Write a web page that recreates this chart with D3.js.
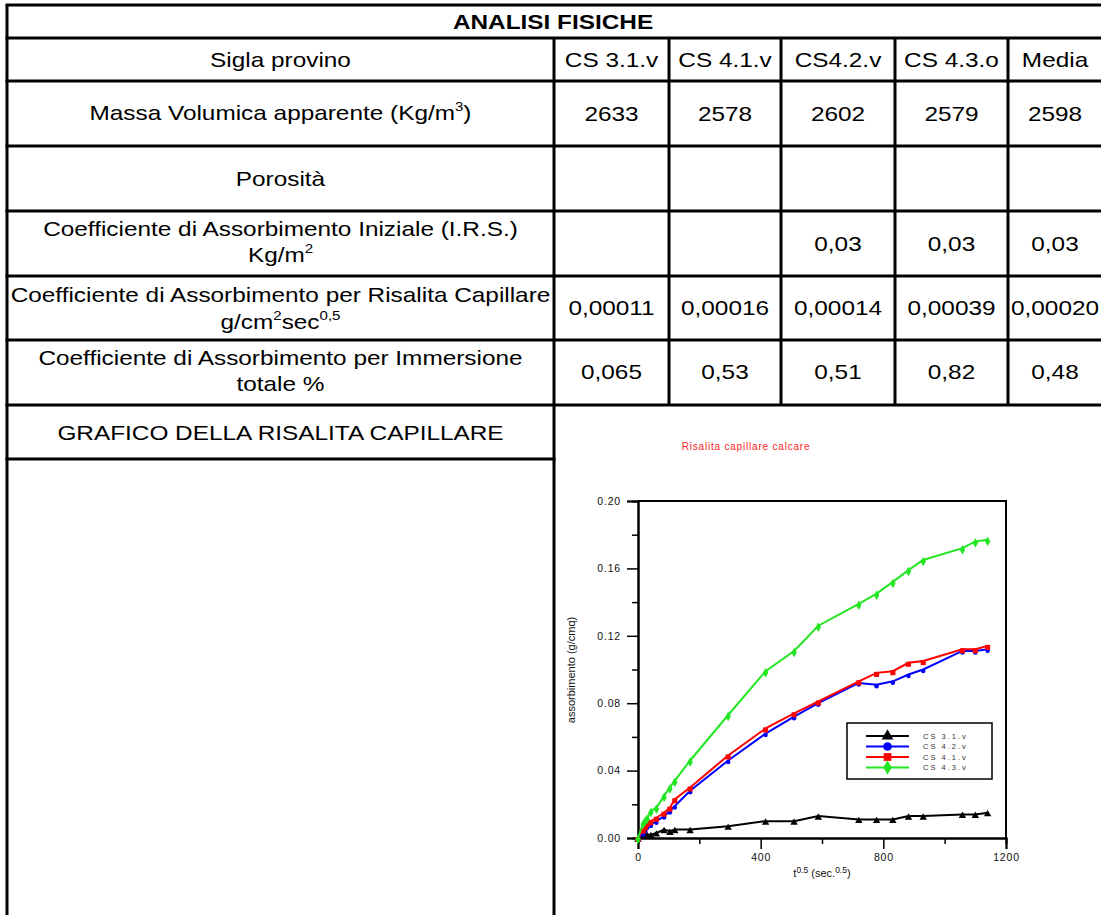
<!DOCTYPE html>
<html>
<head>
<meta charset="utf-8">
<script src="https://cdn.jsdelivr.net/npm/d3@7"></script>
<style>
  html, body { margin: 0; padding: 0; background: #fff; }
  svg { display: block; font-family: "Liberation Sans", Arial, sans-serif; }
</style>
</head>
<body>
<svg id="sheet" width="1101" height="915"></svg>
<script>
// ---- table content ----
const tableTitle = "ANALISI FISICHE";
const sampleIds = ["CS 3.1.v", "CS 4.1.v", "CS4.2.v", "CS 4.3.o", "Media"];
const densityValues = ["2633", "2578", "2602", "2579", "2598"];
const porosityValues = ["", "", "", "", ""];
const irsValues = ["", "", "0,03", "0,03", "0,03"];
const capillaryCoeffValues = ["0,00011", "0,00016", "0,00014", "0,00039", "0,00020"];
const immersionValues = ["0,065", "0,53", "0,51", "0,82", "0,48"];

// ---- capillary rise data: sqrt(t) [sec^0.5] vs absorbed water [g/cm²] ----
const sqrtTime = [0, 17, 24, 30, 42, 60, 85, 104, 120, 170, 294, 416, 509, 588, 720, 778, 831, 882, 930, 1058, 1100, 1140];
const cs31v = [0, 0.002, 0.002, 0.002, 0.002, 0.003, 0.005, 0.004, 0.005, 0.005, 0.007, 0.010, 0.010, 0.013, 0.011, 0.011, 0.011, 0.013, 0.013, 0.014, 0.014, 0.015];
const cs42v = [0, 0.003, 0.005, 0.007, 0.008, 0.010, 0.013, 0.016, 0.019, 0.028, 0.046, 0.062, 0.072, 0.080, 0.092, 0.091, 0.093, 0.097, 0.100, 0.111, 0.111, 0.112];
const cs41v = [0, 0.005, 0.007, 0.009, 0.010, 0.012, 0.015, 0.018, 0.023, 0.030, 0.049, 0.065, 0.074, 0.081, 0.093, 0.098, 0.099, 0.104, 0.105, 0.112, 0.112, 0.114];
const cs43v = [0, 0.009, 0.011, 0.012, 0.016, 0.018, 0.025, 0.030, 0.034, 0.046, 0.073, 0.099, 0.111, 0.126, 0.139, 0.145, 0.152, 0.159, 0.165, 0.172, 0.176, 0.177];
const seriesNames = ["CS 3.1.v", "CS 4.2.v", "CS 4.1.v", "CS 4.3.v"];
const seriesColors = ["#000000", "#0000ff", "#ff0000", "#22e622"];
const yMajorTicks = [0, 0.04, 0.08, 0.12, 0.16, 0.20];
const yMinorTicks = [0.02, 0.06, 0.10, 0.14, 0.18];
const xMajorTicks = [0, 400, 800, 1200];
const xMinorTicks = [200, 600, 1000];

const svg = d3.select("#sheet");

// ---------------- table grid ----------------
const colEdges = [7, 554, 669, 781, 895, 1008, 1103];
const rowEdges = [5, 38, 81, 146, 211, 276, 340, 405];
const graficoBottom = 459;
const grid = svg.append("g").attr("stroke", "#000").attr("stroke-width", 3);

rowEdges.forEach(y => grid.append("line").attr("x1", 5.5).attr("x2", 1103).attr("y1", y).attr("y2", y));
grid.append("line").attr("x1", 5.5).attr("x2", 555.5).attr("y1", graficoBottom).attr("y2", graficoBottom);
grid.append("line").attr("x1", colEdges[0]).attr("x2", colEdges[0]).attr("y1", rowEdges[0]).attr("y2", 915);
grid.append("line").attr("x1", colEdges[1]).attr("x2", colEdges[1]).attr("y1", rowEdges[1]).attr("y2", 915);
colEdges.slice(2, 6).forEach(x => grid.append("line").attr("x1", x).attr("x2", x).attr("y1", rowEdges[1]).attr("y2", rowEdges[7]));

// text helper: horizontally stretched Arial-like text centred at (cx, cy)
function cellText(cx, cy, parts, opts = {}) {
  const g = svg.append("g").attr("transform", `translate(${cx},${cy}) scale(1.16,1)`);
  const t = g.append("text")
    .attr("text-anchor", "middle")
    .attr("y", 7.5)
    .attr("font-size", opts.size || 21)
    .attr("font-weight", opts.bold ? "bold" : "normal")
    .attr("fill", "#000");
  (Array.isArray(parts) ? parts : [[parts]]).forEach(p => {
    const s = t.append("tspan").text(p[0]);
    if (p[1] === "sup") s.attr("font-size", 13).attr("dy", -9);
    if (p[1] === "base") s.attr("dy", 9);
  });
  return g;
}

const labelX = (colEdges[0] + colEdges[1]) / 2;
const colCenters = d3.range(5).map(i => (colEdges[i + 1] + colEdges[i + 2]) / 2);
colCenters[4] = (colEdges[5] + 1102) / 2;

cellText(553, 21, tableTitle, { bold: true });
cellText(labelX, 59.5, "Sigla provino");
cellText(labelX, 112, [["Massa Volumica apparente (Kg/m"], ["3", "sup"], [")", "base"]]);
cellText(labelX, 178.5, "Porosità");
cellText(labelX, 228.5, "Coefficiente di Assorbimento Iniziale (I.R.S.)");
cellText(labelX, 254, [["Kg/m"], ["2", "sup"]]);
cellText(labelX, 294.5, "Coefficiente di Assorbimento per Risalita Capillare");
cellText(labelX, 321, [["g/cm"], ["2", "sup"], ["sec", "base"], ["0,5", "sup"]]);
cellText(labelX, 357, "Coefficiente di Assorbimento per Immersione");
cellText(labelX, 383, "totale %");
cellText(labelX, 432, "GRAFICO DELLA RISALITA CAPILLARE");

const rowsData = [
  [sampleIds, 59.5],
  [densityValues, 113.5],
  [porosityValues, 178.5],
  [irsValues, 243],
  [capillaryCoeffValues, 307],
  [immersionValues, 371]
];
rowsData.forEach(([vals, cy]) => vals.forEach((v, i) => { if (v) cellText(colCenters[i], cy, v); }));

// ---------------- capillary rise chart ----------------
const x = d3.scaleLinear().domain([0, 1200]).range([638, 1006]);
const y = d3.scaleLinear().domain([0, 0.2]).range([838, 501]);
const chart = svg.append("g").attr("font-family", "'Liberation Sans', Arial, sans-serif");

chart.append("text")
  .attr("x", 746).attr("y", 449.5)
  .attr("text-anchor", "middle")
  .attr("font-size", 10).attr("letter-spacing", 0.8)
  .attr("fill", "#ff2222")
  .text("Risalita capillare calcare");

// frame (top and right)
chart.append("path")
  .attr("d", `M${x(0)},${y(0.2)}H${x(1200)}V${y(0)}`)
  .attr("fill", "none").attr("stroke", "#000").attr("stroke-width", 2);

const yAxis = chart.append("g").attr("transform", `translate(${x(0)},0)`)
  .call(d3.axisLeft(y).tickValues(yMajorTicks).tickFormat(d3.format(".2f")).tickSize(11).tickPadding(6));
const yMinor = chart.append("g").attr("transform", `translate(${x(0)},0)`)
  .call(d3.axisLeft(y).tickValues(yMinorTicks).tickFormat("").tickSize(6));
const xAxis = chart.append("g").attr("transform", `translate(0,${y(0)})`)
  .call(d3.axisBottom(x).tickValues(xMajorTicks).tickFormat(d3.format("d")).tickSize(11).tickPadding(5));
const xMinor = chart.append("g").attr("transform", `translate(0,${y(0)})`)
  .call(d3.axisBottom(x).tickValues(xMinorTicks).tickFormat("").tickSize(6));

[yAxis, yMinor, xAxis, xMinor].forEach(a => {
  a.selectAll(".domain").attr("stroke", "#000").attr("stroke-width", 2);
  a.selectAll(".tick line").attr("stroke", "#000").attr("stroke-width", 1.5);
  a.selectAll(".tick text").attr("font-size", 10.5).attr("letter-spacing", 0.8).attr("fill", "#111")
    .attr("font-family", "'Liberation Sans', Arial, sans-serif");
});

chart.append("text")
  .attr("transform", `translate(575,670) rotate(-90)`)
  .attr("text-anchor", "middle")
  .attr("font-size", 11).attr("fill", "#111")
  .text("assorbimento (g/cmq)");

const xt = chart.append("text").attr("x", 822).attr("y", 877)
  .attr("text-anchor", "middle").attr("font-size", 11).attr("fill", "#111");
xt.append("tspan").text("t");
xt.append("tspan").attr("font-size", 8.5).attr("dy", -4).text("0.5");
xt.append("tspan").attr("dy", 4).text(" (sec.");
xt.append("tspan").attr("font-size", 8.5).attr("dy", -4).text("0.5");
xt.append("tspan").attr("dy", 4).text(")");

// marker shapes per series
const symbols = [d3.symbolTriangle, d3.symbolCircle, d3.symbolSquare, d3.symbolDiamond];
const markerSizes = [24, 16, 26, 26];
const seriesValues = [cs31v, cs42v, cs41v, cs43v];
const line = d3.line().x(d => x(d[0])).y(d => y(d[1]));

seriesValues.forEach((vals, i) => {
  const pts = sqrtTime.map((t, k) => [t, vals[k]]);
  const g = chart.append("g");
  g.append("path").datum(pts).attr("d", line)
    .attr("fill", "none").attr("stroke", seriesColors[i]).attr("stroke-width", 2);
  g.selectAll("path.m").data(pts).join("path").attr("class", "m")
    .attr("transform", d => `translate(${x(d[0])},${y(d[1]) + 1.5})`)
    .attr("d", d3.symbol().type(symbols[i]).size(markerSizes[i]))
    .attr("fill", seriesColors[i]);
});

// legend
const legend = chart.append("g").attr("transform", "translate(847,723)");
legend.append("rect").attr("width", 145).attr("height", 56)
  .attr("fill", "#fff").attr("stroke", "#000").attr("stroke-width", 1.5);
seriesNames.forEach((name, i) => {
  const ly = 13 + i * 10.5;
  legend.append("line").attr("x1", 19).attr("x2", 62).attr("y1", ly).attr("y2", ly)
    .attr("stroke", seriesColors[i]).attr("stroke-width", 2);
  legend.append("path").attr("transform", `translate(40.5,${ly})`)
    .attr("d", d3.symbol().type(symbols[i]).size(60)).attr("fill", seriesColors[i]);
  legend.append("text").attr("x", 76).attr("y", ly + 2.8)
    .attr("font-size", 7.5).attr("letter-spacing", 2).attr("fill", "#333").text(name);
});
</script>
</body>
</html>
